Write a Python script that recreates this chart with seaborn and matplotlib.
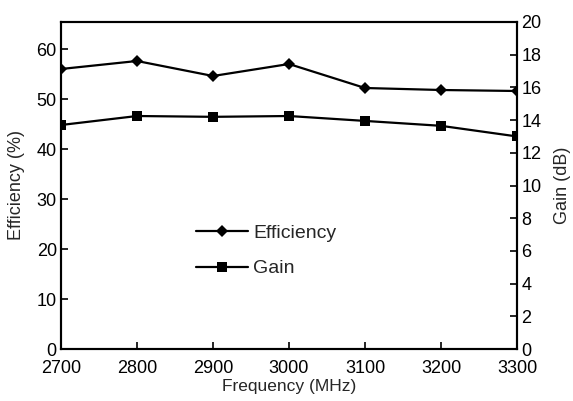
import matplotlib
matplotlib.use("Agg")
import matplotlib.pyplot as plt
import seaborn as sns
import pandas as pd

freq = [2700, 2800, 2900, 3000, 3100, 3200, 3300]
efficiency = [56.0, 57.6, 54.6, 57.0, 52.2, 51.8, 51.6]
gain = [13.7, 14.25, 14.2, 14.25, 13.95, 13.65, 13.0]
left_ticks = [0, 10, 20, 30, 40, 50, 60]
right_ticks = [0, 2, 4, 6, 8, 10, 12, 14, 16, 18, 20]

sns.set_style("white")
plt.rcParams['font.family'] = ['Liberation Sans', 'DejaVu Sans']

df = pd.DataFrame({"freq": freq, "eff": efficiency, "gain": gain})

fig = plt.figure(figsize=(5.73, 4.01), dpi=100)
ax = fig.add_axes([61/573, 1-349/401, (517-61)/573, (349-22)/401])
ax2 = ax.twinx()

sns.lineplot(data=df, x="freq", y="eff", ax=ax, color="black", marker="D",
             markersize=6.2, markeredgewidth=0, linewidth=1.6, label="Efficiency", legend=False)
sns.lineplot(data=df, x="freq", y="gain", ax=ax2, color="black", marker="s",
             markersize=6.5, markeredgewidth=0, linewidth=1.6, label="Gain", legend=False)

ax.set_xlim(2700, 3300)
ax.set_ylim(0, 65.4)
ax2.set_ylim(0, 20)
ax.set_xticks(freq)
ax.set_yticks(left_ticks)
ax2.set_yticks(right_ticks)

fs = 13
ax.tick_params(axis='both', direction='in', length=5, width=1.2, labelsize=fs,
               color='black', labelcolor='black', left=True, bottom=True, pad=3)
ax.tick_params(axis='x', pad=8)
ax2.tick_params(axis='y', direction='in', length=5, width=1.2, labelsize=fs,
                color='black', labelcolor='black', right=True, pad=3)
ax.set_xlabel("Frequency (MHz)", fontsize=12.5, labelpad=1)
ax.set_ylabel("Efficiency (%)", fontsize=13, labelpad=8)
ax2.set_ylabel("Gain (dB)", fontsize=13, labelpad=9)

for a in (ax, ax2):
    for s in a.spines.values():
        s.set_color("black")
        s.set_linewidth(1.5)
        s.set_visible(True)

h1, l1 = ax.get_legend_handles_labels()
h2, l2 = ax2.get_legend_handles_labels()
fig.legend(h1 + h2, l1 + l2, loc="center left", bbox_to_anchor=(186/573, 1-251/401),
           bbox_transform=fig.transFigure, frameon=False, fontsize=14,
           borderpad=0, handlelength=2.7, handletextpad=0.25, labelspacing=0.9)

fig.savefig("out.png", dpi=100)
